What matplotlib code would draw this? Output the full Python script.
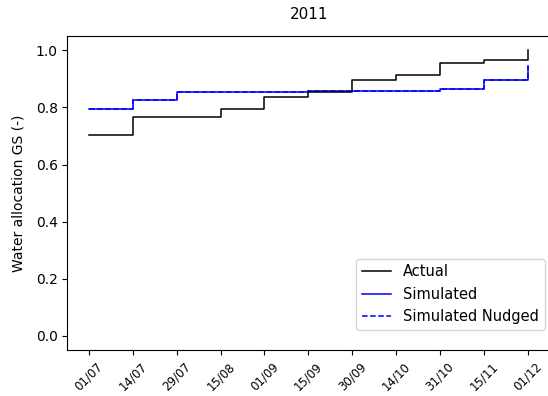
import numpy as np
import matplotlib.pyplot as plt

dates = ["01/07", "14/07", "29/07", "15/08", "01/09", "15/09",
         "30/09", "14/10", "31/10", "15/11", "01/12"]
actual = [0.705, 0.765, 0.765, 0.795, 0.835, 0.855, 0.895, 0.915, 0.955, 0.967, 1.0]
simulated = [0.795, 0.825, 0.853, 0.855, 0.855, 0.856, 0.856, 0.857, 0.865, 0.895, 0.945]
nudged = [0.795, 0.825, 0.853, 0.855, 0.855, 0.856, 0.856, 0.857, 0.865, 0.895, 0.945]

fs = 10
fig = plt.figure(figsize=(5.48, 3.96), dpi=100)
ax = fig.add_axes([0.123, 0.116, 0.884, 0.793])
x = np.arange(len(dates))
ax.plot(x, nudged, color="blue", lw=1.1, ls="--", drawstyle="steps-post",
        label="Simulated Nudged", zorder=1)
ax.plot(x, simulated, color="blue", lw=1.1, drawstyle="steps-post", label="Simulated", zorder=2)
ax.plot(x, actual, color="black", lw=1.1, drawstyle="steps-post", label="Actual", zorder=3)
h, l = ax.get_legend_handles_labels()
ax.set_xticks(x)
ax.set_xticklabels(dates, rotation=45, fontsize=8.5)
ax.set_xlim(-0.49, 10.55)
ax.set_ylim(-0.05, 1.05)
ax.set_yticks([0.0, 0.2, 0.4, 0.6, 0.8, 1.0])
ax.tick_params(axis="y", labelsize=fs)
ax.set_ylabel("Water allocation GS (-)", fontsize=fs, labelpad=7)
ax.set_title("2011", fontsize=fs + 1, pad=12)
ax.legend(h[::-1], l[::-1], loc="lower right", fontsize=10.5,
          bbox_to_anchor=(1.0, 0.041))
fig.savefig("out.png")
